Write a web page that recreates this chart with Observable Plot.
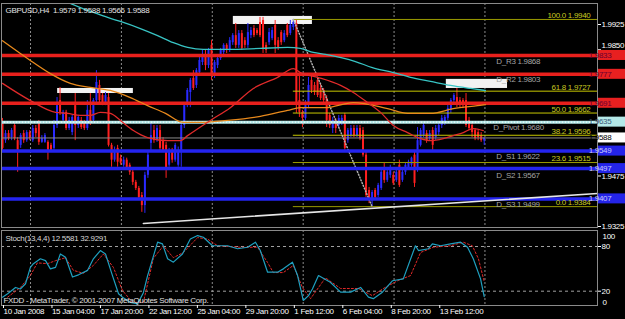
<!DOCTYPE html>
<html><head><meta charset="utf-8">
<script src="https://cdn.jsdelivr.net/npm/d3@7"></script>
<script src="https://cdn.jsdelivr.net/npm/@observablehq/plot@0.6"></script>
<style>
html,body{margin:0;padding:0;background:#000;}
#chart{position:relative;width:625px;height:319px;background:#000;overflow:hidden;font-family:"Liberation Sans",Arial,sans-serif;}
#chart svg{position:absolute;left:0;background:#000;}
#chart text{letter-spacing:-0.3px;}
</style></head><body><div id="chart"></div>
<script>
// ---------- data ----------
const O=[1.9634,1.9580,1.9601,1.9589,1.9625,1.9580,1.9566,1.9601,1.9580,1.9604,1.9580,1.9616,1.9631,1.9575,1.9575,1.9575,1.9566,1.9557,1.9625,1.9699,
1.9640,1.9664,1.9616,1.9604,1.9684,1.9625,1.9640,1.9634,1.9616,1.9670,1.9640,1.9699,1.9744,1.9714,1.9690,1.9708,1.9566,1.9522,1.9557,1.9528,
1.9507,1.9522,1.9507,1.9486,1.9456,1.9438,1.9417,1.9387,1.9477,1.9572,1.9610,1.9580,1.9610,1.9580,1.9566,1.9507,1.9551,1.9522,1.9507,1.9551,
1.9625,1.9684,1.9723,1.9765,1.9744,1.9782,1.9812,1.9833,1.9803,1.9863,1.9773,1.9803,1.9824,1.9842,1.9863,1.9848,1.9871,1.9892,1.9863,1.9898,
1.9877,1.9863,1.9892,1.9913,1.9907,1.9931,1.9937,1.9863,1.9871,1.9883,1.9922,1.9877,1.9901,1.9877,1.9922,1.9898,1.9916,1.9928,1.9699,1.9664,
1.9646,1.9684,1.9759,1.9744,1.9759,1.9735,1.9729,1.9705,1.9655,1.9616,1.9640,1.9625,1.9634,1.9655,1.9580,1.9595,1.9616,1.9595,1.9616,1.9610,
1.9537,1.9432,1.9402,1.9432,1.9417,1.9438,1.9498,1.9462,1.9477,1.9477,1.9462,1.9507,1.9462,1.9486,1.9498,1.9507,1.9537,1.9492,1.9566,1.9595,
1.9601,1.9586,1.9610,1.9589,1.9604,1.9625,1.9634,1.9646,1.9670,1.9699,1.9708,1.9699,1.9699,1.9699,1.9640,1.9625,1.9610,1.9604,1.9595,1.9579];
const H=[1.9646,1.9610,1.9610,1.9616,1.9631,1.9589,1.9601,1.9610,1.9610,1.9610,1.9625,1.9625,1.9640,1.9595,1.9601,1.9580,1.9572,1.9640,1.9708,1.9738,
1.9670,1.9670,1.9649,1.9655,1.9720,1.9655,1.9649,1.9640,1.9699,1.9720,1.9705,1.9788,1.9759,1.9720,1.9723,1.9720,1.9572,1.9561,1.9566,1.9537,
1.9531,1.9528,1.9513,1.9492,1.9462,1.9444,1.9426,1.9486,1.9551,1.9631,1.9625,1.9625,1.9625,1.9589,1.9575,1.9557,1.9557,1.9572,1.9561,1.9634,
1.9690,1.9735,1.9765,1.9788,1.9794,1.9827,1.9848,1.9848,1.9854,1.9877,1.9818,1.9833,1.9854,1.9868,1.9868,1.9886,1.9898,1.9928,1.9907,1.9907,
1.9886,1.9928,1.9916,1.9922,1.9913,1.9946,1.9946,1.9871,1.9913,1.9916,1.9937,1.9886,1.9907,1.9907,1.9928,1.9937,1.9940,1.9937,1.9779,1.9670,
1.9699,1.9768,1.9779,1.9753,1.9768,1.9750,1.9735,1.9714,1.9661,1.9649,1.9646,1.9655,1.9655,1.9661,1.9616,1.9625,1.9625,1.9625,1.9625,1.9619,
1.9546,1.9441,1.9432,1.9438,1.9453,1.9492,1.9513,1.9492,1.9507,1.9486,1.9492,1.9522,1.9492,1.9513,1.9522,1.9531,1.9551,1.9619,1.9616,1.9631,
1.9610,1.9610,1.9619,1.9625,1.9631,1.9655,1.9655,1.9687,1.9705,1.9720,1.9735,1.9708,1.9705,1.9720,1.9649,1.9634,1.9616,1.9610,1.9604,1.9588];
const L=[1.9546,1.9572,1.9580,1.9580,1.9580,1.9486,1.9557,1.9572,1.9575,1.9580,1.9575,1.9589,1.9566,1.9572,1.9572,1.9522,1.9546,1.9551,1.9616,1.9655,
1.9634,1.9610,1.9610,1.9595,1.9580,1.9616,1.9613,1.9610,1.9610,1.9625,1.9631,1.9690,1.9690,1.9684,1.9684,1.9561,1.9501,1.9516,1.9501,1.9507,
1.9501,1.9492,1.9477,1.9447,1.9432,1.9402,1.9367,1.9364,1.9468,1.9551,1.9572,1.9575,1.9551,1.9546,1.9468,1.9501,1.9513,1.9516,1.9501,1.9501,
1.9616,1.9678,1.9678,1.9729,1.9735,1.9773,1.9803,1.9788,1.9794,1.9759,1.9765,1.9794,1.9818,1.9833,1.9839,1.9842,1.9863,1.9854,1.9854,1.9848,
1.9854,1.9854,1.9883,1.9886,1.9892,1.9886,1.9839,1.9839,1.9863,1.9877,1.9839,1.9848,1.9863,1.9871,1.9886,1.9892,1.9907,1.9661,1.9649,1.9619,
1.9640,1.9675,1.9720,1.9714,1.9708,1.9699,1.9690,1.9619,1.9616,1.9601,1.9601,1.9616,1.9625,1.9551,1.9572,1.9589,1.9589,1.9589,1.9580,1.9531,
1.9411,1.9393,1.9381,1.9402,1.9411,1.9432,1.9453,1.9456,1.9468,1.9447,1.9456,1.9441,1.9456,1.9477,1.9492,1.9501,1.9441,1.9486,1.9561,1.9589,
1.9572,1.9580,1.9551,1.9580,1.9595,1.9616,1.9625,1.9640,1.9661,1.9690,1.9678,1.9678,1.9675,1.9619,1.9610,1.9589,1.9580,1.9580,1.9575,1.9566];
const C=[1.9557,1.9601,1.9586,1.9610,1.9586,1.9551,1.9595,1.9580,1.9604,1.9586,1.9616,1.9601,1.9575,1.9586,1.9595,1.9551,1.9551,1.9625,1.9684,1.9664,
1.9664,1.9616,1.9640,1.9649,1.9625,1.9649,1.9619,1.9616,1.9670,1.9631,1.9699,1.9753,1.9699,1.9690,1.9714,1.9566,1.9522,1.9551,1.9516,1.9513,
1.9522,1.9498,1.9486,1.9456,1.9438,1.9411,1.9387,1.9477,1.9537,1.9595,1.9580,1.9616,1.9557,1.9551,1.9492,1.9551,1.9522,1.9566,1.9551,1.9625,
1.9684,1.9729,1.9759,1.9735,1.9788,1.9818,1.9833,1.9803,1.9848,1.9773,1.9812,1.9824,1.9848,1.9863,1.9848,1.9877,1.9892,1.9863,1.9898,1.9854,
1.9863,1.9901,1.9907,1.9892,1.9898,1.9892,1.9854,1.9848,1.9901,1.9907,1.9863,1.9854,1.9871,1.9898,1.9892,1.9922,1.9931,1.9684,1.9664,1.9646,
1.9684,1.9744,1.9729,1.9723,1.9714,1.9705,1.9699,1.9640,1.9625,1.9640,1.9616,1.9646,1.9646,1.9557,1.9610,1.9616,1.9595,1.9616,1.9586,1.9537,
1.9417,1.9402,1.9426,1.9411,1.9447,1.9486,1.9462,1.9486,1.9498,1.9453,1.9486,1.9447,1.9486,1.9507,1.9516,1.9528,1.9453,1.9580,1.9610,1.9625,
1.9580,1.9601,1.9566,1.9616,1.9625,1.9646,1.9649,1.9675,1.9699,1.9714,1.9690,1.9687,1.9684,1.9625,1.9616,1.9604,1.9586,1.9589,1.9580,1.9588];

// moving averages: [bar, price]
const maCyan=[[21.1,1.9993],[25.7,1.9975],[30,1.9961],[34.7,1.9946],[38.9,1.9934],[45.5,1.9913],[51.2,1.9892],[56.4,1.9871],[61.1,1.9857],[66.3,1.9851],[74.3,1.9851],[85.1,1.9854],[94.1,1.9857],[98.3,1.9854],[102.6,1.9842],[106.6,1.9836],[116.5,1.9815],[122.1,1.9797],[129,1.9782],[134.7,1.9768],[141.3,1.9756],[147.9,1.9744],[154.5,1.9735],[159.4,1.9729]];
const maOrange=[[0,1.9877],[5.9,1.9839],[9.2,1.9818],[15.8,1.9779],[22.4,1.9750],[29,1.9738],[35.6,1.9729],[42.2,1.9708],[47.9,1.9684],[53.8,1.9661],[59.7,1.9634],[65.3,1.9634],[70.3,1.9637],[74.3,1.9640],[85.1,1.9652],[94.1,1.9670],[98.3,1.9678],[106.6,1.9678],[115.8,1.9693],[127.1,1.9675],[133.7,1.9661],[141.3,1.9661],[148.8,1.9675],[156.8,1.9684],[159.4,1.9687]];
const maRed=[[0,1.9750],[9.2,1.9699],[17.5,1.9664],[21.5,1.9661],[25.7,1.9655],[29,1.9655],[32.3,1.9664],[35.6,1.9661],[38.9,1.9640],[43.2,1.9610],[47.9,1.9589],[54.5,1.9580],[58.7,1.9580],[61.1,1.9595],[68.6,1.9640],[75.2,1.9678],[82.8,1.9735],[90.8,1.9768],[96,1.9794],[98.3,1.9782],[104,1.9768],[111.6,1.9744],[115.8,1.9723],[120.5,1.9693],[124.8,1.9664],[129,1.9625],[133.7,1.9604],[138,1.9586],[141.3,1.9580],[145.5,1.9586],[148.8,1.9595],[152.1,1.9604],[155.4,1.9616],[158.7,1.9610]];

// horizontal levels
const redLevels=[1.9833,1.9777,1.9691];
const cyanLevels=[1.9635];
const bidLevel=[1.9588];
const blueLevels=[1.9549,1.9497,1.9407];
const fibStartBar=96;
const fibPcts=["100.0","61.8","50.0","38.2","23.6","0.0"];
const fibPrices=[1.9940,1.9727,1.9662,1.9596,1.9515,1.9384];
const fibTrend=[[96,1.9940],[122,1.9384]];
const trendLine=[[46.5,1.9334],[196.4,1.9423]];
const pivotNames=["D_R3 1.9868","D_R2 1.9803","D_Pivot 1.9680","D_S1 1.9622","D_S2 1.9567","D_S3 1.9499"];
const pivotAnchorPrices=[1.9815,1.9762,1.9619,1.9534,1.9477,1.9391];
const pivotAnchorBars=[163,163,162,163,163,163];
const boxes=[{b1:18.2,b2:43.2,p1:1.9735,p2:1.9720},{b1:76.2,b2:102.3,p1:1.9949,p2:1.9925},{b1:146.5,b2:166.7,p1:1.9762,p2:1.9735}];
// axis ticks left visible (the others sit under the price tags)
const priceTicks=[1.9925,1.9850,1.9475,1.9325];
const raisedTick=[1.9850];
const rightTags=[{v:1.9833,k:"red"},{v:1.9777,k:"red"},{v:1.9691,k:"red"},{v:1.9635,k:"cyan"},{v:1.9588,k:"bid"},{v:1.9549,k:"blue"},{v:1.9497,k:"blue"},{v:1.9407,k:"blue"}];
const gridBars=[9.25,39.25,69.25,99.25,129.25,159.25];
const dateBars=[0,16,32,48,64,80,96,112,128,144];
const dateLabels=["10 Jan 2008","15 Jan 04:00","17 Jan 20:00","22 Jan 12:00","25 Jan 04:00","29 Jan 20:00","1 Feb 12:00","6 Feb 04:00","8 Feb 20:00","13 Feb 12:00"];
const titleText="GBPUSD,H4\u00a0\u00a01.9579 1.9588 1.9566 1.9588";

// stochastic (13,4,4): [bar, value]
const stochMain=[[0,12],[1.7,16.5],[4.3,25],[5.9,23],[7.6,30],[9.2,52],[10.2,57],[12.5,63.5],[14.2,61],[15.8,50],[17.5,52],[19.1,70],[20.8,65.6],[23.1,39],[25.1,42],[28.1,48],[30,63.5],[32.3,74.6],[34,70],[36.3,41],[38.3,16.5],[39.6,12],[42.2,5],[44.6,3],[46.5,18],[47.9,41],[51.2,85.8],[52.8,83.6],[54.5,63.5],[56.4,59],[59.4,70],[62,90],[64.4,94.7],[66.3,92.5],[69.3,81],[74.3,81],[77.6,77],[80.9,79],[83.5,85.8],[85.1,74.6],[87.5,45.5],[90.8,45.5],[92.7,50],[95.7,59],[97.4,41],[99.3,7.5],[101,14],[102.3,23],[104.3,41],[108.2,32],[111.6,18.7],[114.9,18.7],[118.2,25],[120.8,12],[122.4,10],[125.4,18.7],[128.7,34],[132.3,36.6],[136.3,81],[137.3,74.6],[140.6,77],[141.9,83.6],[144.6,81],[147.9,83.6],[151.2,85.8],[153.5,79],[155.4,63.5],[157.8,36.6],[159,12.56]];
const stochSignal=[[1.7,12],[5.9,25],[9.2,41],[11.5,58],[14.9,57],[17.5,61],[20.8,65],[23.4,48],[26.7,44],[30,54.6],[33.3,70],[36.6,52],[39.6,21],[42.9,5],[46.5,5],[49.8,64],[53.1,81],[56.4,65],[59.7,72],[64.4,92],[67.7,90],[71,81],[78.6,79],[84.2,79],[87.5,58.5],[89.4,45],[92.7,45],[96,54.6],[99,25],[101.7,10],[106.6,38],[111.6,23.6],[117.5,23.6],[122.1,14],[125.7,23.6],[130.4,34],[134.7,41],[138,72],[142.2,79],[147.9,81],[152.1,85.8],[155.1,81],[157.1,63.5],[159,32.93]];
const stochTitle="Stoch(13,4,4) 12.5581 32.9291";
const copyright="FXDD - MetaTrader, \u00a9 2001-2007 MetaQuotes Software Corp.";

// ---------- drawing ----------
const FONT="Liberation Sans, Arial, sans-serif";
const BLUE="#2a2aff", RED="#ff2020";
const fmt4=d3.format(".4f");
const bars=d3.range(O.length).map(i=>({i,o:O[i],h:H[i],l:L[i],c:C[i]}));
const up=bars.filter(d=>d.c>=d.o), dn=bars.filter(d=>d.c<d.o);
const fib=fibPrices.map((p,k)=>({p,label:fibPcts[k]+" "+p.toFixed(4),col:(k===0||k>=4)?"#9a9a00":"#c8c800"}));
const pivots=pivotNames.map((t,k)=>({t,p:pivotAnchorPrices[k],b:pivotAnchorBars[k]}));
const XD=[-0.33,196.4];
const chart=document.getElementById("chart");

const main=Plot.plot({
  width:625,height:229,marginTop:3,marginBottom:2,marginLeft:1,marginRight:28,
  style:{background:"#000",color:"#fff",fontFamily:FONT,fontSize:"8px",overflow:"visible"},
  x:{domain:XD,axis:null},
  y:{domain:[1.9322,1.99874],axis:null},
  marks:[
    Plot.ruleX(gridBars,{stroke:"#8c8c8c",strokeDasharray:"2,2"}),
    Plot.rect(boxes,{x1:"b1",x2:"b2",y1:"p1",y2:"p2",fill:"#f2f2f2"}),
    Plot.ruleX(up,{x:"i",y1:"l",y2:"h",stroke:BLUE,strokeWidth:1}),
    Plot.ruleX(dn,{x:"i",y1:"l",y2:"h",stroke:RED,strokeWidth:1}),
    Plot.ruleX(up,{x:"i",y1:"o",y2:"c",stroke:BLUE,strokeWidth:2}),
    Plot.ruleX(dn,{x:"i",y1:"o",y2:"c",stroke:RED,strokeWidth:2}),
    Plot.ruleY(fib,{y:"p",x1:fibStartBar,x2:XD[1],stroke:"col",strokeWidth:1}),
    Plot.line(fibTrend,{x:d=>d[0],y:d=>d[1],stroke:"#b0b0b0",strokeDasharray:"1,2"}),
    Plot.ruleY(redLevels,{stroke:"#e8201c",strokeWidth:3.5}),
    Plot.ruleY(cyanLevels,{stroke:"#b4e8e8",strokeWidth:3}),
    Plot.ruleY(cyanLevels,{stroke:"#ffffff",strokeWidth:1,strokeDasharray:"1,2"}),
    Plot.ruleY(bidLevel,{stroke:"#8a8a8a",strokeWidth:1}),
    Plot.ruleY(blueLevels,{stroke:"#2424f0",strokeWidth:3.5}),
    Plot.line(trendLine,{x:d=>d[0],y:d=>d[1],stroke:"#e6e6e6",strokeWidth:1.6}),
    Plot.line(maCyan,{x:d=>d[0],y:d=>d[1],stroke:"#38c4c4",strokeWidth:1.3,curve:"monotone-x",clip:true}),
    Plot.line(maOrange,{x:d=>d[0],y:d=>d[1],stroke:"#e8891c",strokeWidth:1.3,curve:"monotone-x",clip:true}),
    Plot.line(maRed,{x:d=>d[0],y:d=>d[1],stroke:"#e02a2a",strokeWidth:1.3,curve:"monotone-x",clip:true}),
    Plot.text(fib,{frameAnchor:"right",y:"p",text:"label",textAnchor:"end",dx:-7,dy:-4,fill:"#c8c820",fontSize:8}),
    Plot.text(pivots,{x:"b",y:"p",text:"t",textAnchor:"start",fill:"#a4a4a4",fontSize:8}),
    Plot.text([titleText],{text:d=>d,frameAnchor:"top-left",dx:4,dy:4,lineAnchor:"top",textAnchor:"start",fill:"#e4e4e4",fontSize:8}),
    Plot.frame({stroke:"#8a8a8a"}),
    Plot.axisY({anchor:"right",ticks:priceTicks,tickFormat:d=>raisedTick.includes(d)?"":fmt4(d),tickSize:3,tickPadding:1,stroke:"#fff",fill:"#fff",fontSize:8,label:null}),
    Plot.text(raisedTick,{y:d=>d,text:d=>fmt4(d),frameAnchor:"right",dx:4,dy:-4,textAnchor:"start",fill:"#fff",fontSize:8})
  ]
});
main.style.top="0px";
chart.appendChild(main);

// price tags on the right axis, positioned with the plot's own y scale
const ys=main.scale("y");
const tagStyle={red:["#e82020","#6a0030"],cyan:["#b4e8e8","#3a5a7a"],bid:["#ffffff","#000000"],blue:["#2424e8","#c8c8ff"]};
const svgm=d3.select(main);
rightTags.forEach(t=>{
  const y=ys.apply(t.v);
  const [bg,fg]=tagStyle[t.k];
  svgm.append("rect").attr("x",598).attr("y",y-5).attr("width",27).attr("height",10).attr("fill",bg);
  svgm.append("text").attr("x",600).attr("y",y).attr("dy","0.35em").attr("fill",fg)
    .attr("font-size",8).attr("font-family",FONT).text(t.v.toFixed(4));
});

const stoch=Plot.plot({
  width:625,height:90,marginTop:1,marginBottom:14,marginLeft:1,marginRight:28,
  style:{background:"#000",color:"#fff",fontFamily:FONT,fontSize:"8px",overflow:"visible"},
  x:{domain:XD},
  y:{domain:[0.8,101.5],axis:null},
  marks:[
    Plot.ruleX(gridBars,{stroke:"#8c8c8c",strokeDasharray:"2,2"}),
    Plot.ruleY([80,20],{stroke:"#a0a0a0",strokeDasharray:"3,3"}),
    Plot.line(stochSignal,{x:d=>d[0],y:d=>d[1],stroke:"#e02828",strokeWidth:1,strokeDasharray:"2,2"}),
    Plot.line(stochMain,{x:d=>d[0],y:d=>d[1],stroke:"#1fa0c0",strokeWidth:1.2}),
    Plot.text([stochTitle],{text:d=>d,frameAnchor:"top-left",dx:4,dy:5,lineAnchor:"top",textAnchor:"start",fill:"#d8d8d8",fontSize:8}),
    Plot.text([copyright],{text:d=>d,frameAnchor:"bottom-left",dx:2,dy:-3,lineAnchor:"bottom",textAnchor:"start",fill:"#e0e0e0",fontSize:8}),
    Plot.frame({stroke:"#8a8a8a"}),
    Plot.axisX({ticks:dateBars,tickFormat:d=>dateLabels[dateBars.indexOf(d)],anchor:"bottom",tickSize:3,tickPadding:0,textAnchor:"start",dx:1,stroke:"#fff",fill:"#fff",fontSize:8,label:null}),
    Plot.axisY({anchor:"right",ticks:[80,20],tickSize:3,tickPadding:1,stroke:"#fff",fill:"#fff",fontSize:8,label:null}),
    Plot.text(["100"],{text:d=>d,frameAnchor:"top-right",dx:5,dy:3,lineAnchor:"top",textAnchor:"start",fill:"#fff",fontSize:8}),
    Plot.text(["0"],{text:d=>d,frameAnchor:"bottom-right",dx:5,dy:-1,lineAnchor:"bottom",textAnchor:"start",fill:"#fff",fontSize:8})
  ]
});
stoch.style.top="229px";
chart.appendChild(stoch);
</script></body></html>
